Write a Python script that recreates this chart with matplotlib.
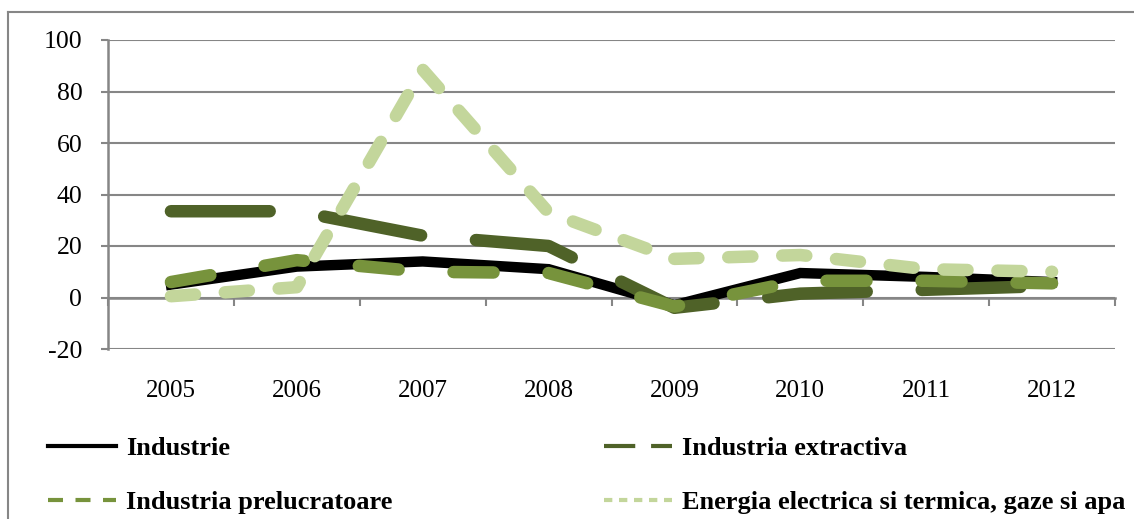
import numpy as np
import matplotlib
matplotlib.use("Agg")
import matplotlib.pyplot as plt
from matplotlib.lines import Line2D

# date
years = ["2005", "2006", "2007", "2008", "2009", "2010", "2011", "2012"]
industrie = [5, 12, 14, 11, -3, 9.5, 8, 6]
extractiva = [33.5, 33.5, 24, 20, -4, 1.5, 3, 4.5]
prelucratoare = [6, 14.5, 10, 9.5, -3.5, 6.5, 6.5, 5.5]
energia = [0.5, 4, 88.5, 33, 15, 16.5, 11, 10]

labels = ["Industrie", "Industria extractiva", "Industria prelucratoare",
          "Energia electrica si termica, gaze si apa"]
colors = ["#000000", "#4F6228", "#77933C", "#C3D69B"]

grey = "#868686"
plt.rcParams["font.family"] = ["Liberation Serif", "DejaVu Serif"]
plt.rcParams["axes.unicode_minus"] = False

fig = plt.figure(figsize=(11.34, 5.19), dpi=100)
ax = fig.add_axes([108 / 1134, 1 - 349 / 519, (1115 - 108) / 1134, (349 - 40) / 519])

x = np.arange(len(years))
ax.plot(x, industrie, color=colors[0], lw=7.5, solid_joinstyle="miter", zorder=3)
ax.plot(x, extractiva, color=colors[1], lw=9, dashes=(7.9, 4.4),
        dash_capstyle="round", zorder=4)
ax.plot(x, prelucratoare, color=colors[2], lw=9, dashes=(3.2, 4.4),
        dash_capstyle="round", zorder=5)
ax.plot(x, energia, color=colors[3], lw=9, dashes=(1.93, 2.39),
        dash_capstyle="round", zorder=6)

ax.set_xlim(-0.5, len(years) - 0.5)
ax.set_ylim(-20, 100)
ax.set_yticks(np.arange(-20, 101, 20))
ax.yaxis.grid(True, color=grey, lw=1.5)
ax.set_axisbelow(True)

for s in ["top", "right"]:
    ax.spines[s].set_visible(False)
ax.spines["left"].set_color(grey)
ax.spines["left"].set_linewidth(1.8)
ax.spines["bottom"].set_position(("data", 0))
ax.spines["bottom"].set_color(grey)
ax.spines["bottom"].set_linewidth(1.8)

ax.set_xticks(np.arange(-0.5, len(years), 1))
ax.set_xticklabels([])
ax.tick_params(axis="x", length=6, width=1.5, color=grey, direction="out")
ax.tick_params(axis="y", length=5, width=1.5, color=grey, labelsize=18.5, pad=13.5)

for i, yr in enumerate(years):
    ax.text(i, -0.135, yr, transform=ax.get_xaxis_transform(),
            ha="center", va="center", fontsize=18)

# legenda
handles = [
    Line2D([], [], color=colors[0], lw=3),
    Line2D([], [], color=colors[2], lw=3, dashes=(3.6, 3.0)),
    Line2D([], [], color=colors[1], lw=3, dashes=(7.5, 3.8)),
    Line2D([], [], color=colors[3], lw=3, dashes=(2.0, 1.6)),
]
order = [labels[0], labels[2], labels[1], labels[3]]
fig.legend(handles, order, loc="upper left",
           bbox_to_anchor=(37 / 1134, 1 - 426 / 519), borderaxespad=0,
           ncol=2, frameon=False, handlelength=2.6, handletextpad=0.38,
           columnspacing=8.0, labelspacing=1.17,
           prop={"family": ["Liberation Serif"], "weight": "bold", "size": 19})

# chenarul exterior
fig.add_artist(Line2D([8 / 1134, 8 / 1134], [0, 1 - 12 / 519], color=grey, lw=1.5,
                      transform=fig.transFigure))
fig.add_artist(Line2D([8 / 1134, 1], [1 - 12 / 519, 1 - 12 / 519], color=grey, lw=1.5,
                      transform=fig.transFigure))

fig.savefig("out.png", dpi=100)
